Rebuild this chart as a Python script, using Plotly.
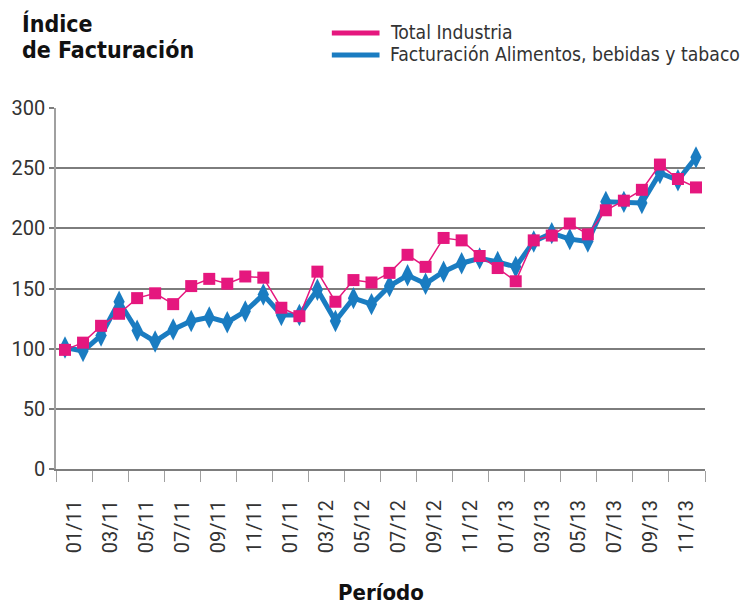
import plotly.graph_objects as go

# Monthly periods, Jan 2011 - Dec 2013
periodos = [
    "01/11", "02/11", "03/11", "04/11", "05/11", "06/11", "07/11", "08/11", "09/11", "10/11", "11/11", "12/11",
    "01/12", "02/12", "03/12", "04/12", "05/12", "06/12", "07/12", "08/12", "09/12", "10/12", "11/12", "12/12",
    "01/13", "02/13", "03/13", "04/13", "05/13", "06/13", "07/13", "08/13", "09/13", "10/13", "11/13", "12/13",
]

# Tick labels shown every two months
etiquetas = [
    "01/11", "03/11", "05/11", "07/11", "09/11", "11/11",
    "01/11", "03/12", "05/12", "07/12", "09/12", "11/12",
    "01/13", "03/13", "05/13", "07/13", "09/13", "11/13",
]

total_industria = [
    99, 105, 119, 129, 142, 146, 137, 152, 158, 154, 160, 159,
    134, 127, 164, 139, 157, 155, 163, 178, 168, 192, 190, 177,
    167, 156, 190, 194, 204, 195, 215, 223, 232, 253, 241, 234,
]

alimentos = [
    101, 98, 111, 139, 115, 106, 116, 123, 126, 122, 131, 145,
    128, 128, 149, 123, 142, 137, 152, 161, 154, 164, 171, 175,
    172, 168, 189, 196, 191, 189, 222, 222, 221, 246, 240, 259,
]

series = [
    ("Total Industria", "#e5177e"),
    ("Facturación Alimentos, bebidas y tabaco", "#1a7cc1"),
]

ROSA = series[0][1]
AZUL = series[1][1]
GRIS = "#7d7d7d"
TEXTO = "DejaVu Sans Condensed, Roboto, sans-serif"
NUMEROS = "Roboto, sans-serif"

x = list(range(len(periodos)))

fig = go.Figure()

fig.add_trace(go.Scatter(
    x=x, y=alimentos, mode="lines+markers", showlegend=False,
    text=periodos, name=series[1][0],
    line=dict(color=AZUL, width=5),
    marker=dict(symbol="diamond-tall", size=16, color=AZUL),
))
fig.add_trace(go.Scatter(
    x=x, y=total_industria, mode="lines+markers", showlegend=False,
    text=periodos, name=series[0][0],
    line=dict(color=ROSA, width=1.5),
    marker=dict(symbol="square", size=12, color=ROSA),
))
# the label axis needs a trace to be drawn
fig.add_trace(go.Scatter(x=[None], y=[None], xaxis="x2", showlegend=False, hoverinfo="skip"))

rango_x = [-0.5, len(periodos) - 0.5]

# legend drawn as keys + labels above the plot
shapes = []
annotations = []
for i, (nombre, color) in enumerate(series):
    yk = 1.208 - i * 0.061
    shapes.append(dict(type="line", xref="paper", yref="paper",
                       x0=0.425, x1=0.4985, y0=yk, y1=yk,
                       line=dict(color=color, width=5)))
    annotations.append(dict(text=nombre, xref="paper", yref="paper",
                            x=0.512, y=yk, xanchor="left", yanchor="middle",
                            showarrow=False,
                            font=dict(size=19.2, color="#333333", family=TEXTO)))

annotations += [
    dict(text="<b>Índice</b>", xref="paper", yref="paper",
         x=-0.055, y=1.235, xanchor="left", yanchor="middle", align="left",
         showarrow=False, font=dict(size=23, color="#111111", family=TEXTO)),
    dict(text="<b>de Facturación</b>", xref="paper", yref="paper",
         x=-0.055, y=1.16, xanchor="left", yanchor="middle", align="left",
         showarrow=False, font=dict(size=23, color="#111111", family=TEXTO)),
    dict(text="<b>Período</b>", xref="paper", yref="paper",
         x=0.5015, y=-0.342, xanchor="center", yanchor="middle",
         showarrow=False, font=dict(size=22, color="#111111", family=TEXTO)),
]

fig.update_layout(
    width=747, height=605,
    margin=dict(l=53, r=42, t=108, b=136),
    paper_bgcolor="white", plot_bgcolor="white",
    font=dict(family=TEXTO, color="#333333"),
    showlegend=False,
    xaxis=dict(
        range=rango_x, showgrid=False, zeroline=False,
        showline=True, linecolor=GRIS, linewidth=2,
        tickmode="array", tickvals=[v - 0.5 for v in x[::2]] + [rango_x[1]],
        ticktext=[""] * (len(x[::2]) + 1),
        ticks="outside", ticklen=11, tickcolor="#a0a0a0", tickwidth=1,
    ),
    xaxis2=dict(
        overlaying="x", anchor="y", side="bottom", range=rango_x,
        showgrid=False, zeroline=False, showline=False,
        tickmode="array", tickvals=[v + 0.5 for v in x[::2]], ticktext=etiquetas,
        tickangle=-90, ticks="", ticklabelstandoff=26,
        tickfont=dict(size=20, color="#333333", family=NUMEROS),
    ),
    yaxis=dict(
        range=[0, 300], tickvals=[0, 50, 100, 150, 200, 250, 300],
        showgrid=True, gridcolor=GRIS, gridwidth=2,
        zeroline=False, showline=True, linecolor="#a0a0a0", linewidth=1.5,
        ticks="outside", ticklen=5, tickcolor=GRIS, tickwidth=2,
        tickfont=dict(size=20, color="#333333", family=NUMEROS),
    ),
    shapes=shapes,
    annotations=annotations,
)

fig.write_html("out.html")
